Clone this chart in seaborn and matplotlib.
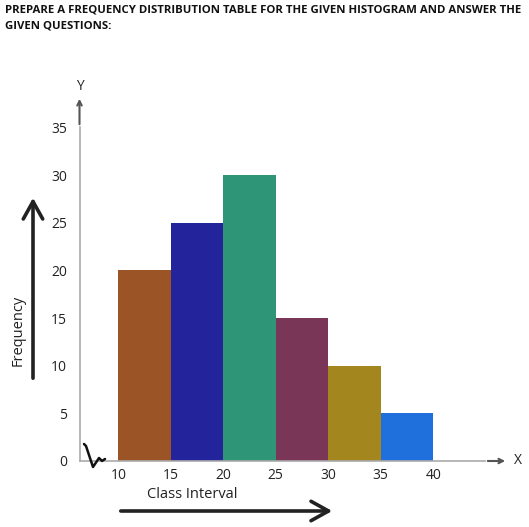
import matplotlib
matplotlib.use("Agg")
import matplotlib.pyplot as plt
import seaborn as sns
import pandas as pd

# ---- data ----
class_lower = [10, 15, 20, 25, 30, 35]
class_upper = [15, 20, 25, 30, 35, 40]
frequency = [20, 25, 30, 15, 10, 5]
bar_colors = ["#9A5425", "#23239C", "#2E9677", "#7A3656", "#A3861D", "#1F70DC"]
x_ticks = [10, 15, 20, 25, 30, 35, 40]
y_ticks = [0, 5, 10, 15, 20, 25, 30, 35]
title_text = "PREPARE A FREQUENCY DISTRIBUTION TABLE FOR THE GIVEN HISTOGRAM AND ANSWER THE\nGIVEN QUESTIONS:"

sns.set_style("white")
plt.rcParams["font.family"] = ["Open Sans", "DejaVu Sans"]

W, H = 529, 527
fig = plt.figure(figsize=(W / 100, H / 100), dpi=100)

# axes spanning pixel x 80..505, y 461 (zero) .. 93 (top)
px_left, px_right, px_zero, px_top = 80, 505, 461, 93
ax = fig.add_axes([px_left / W, (H - px_zero) / H,
                   (px_right - px_left) / W, (px_zero - px_top) / H])

mids = [(a + b) / 2 for a, b in zip(class_lower, class_upper)]
labels = [f"{a}-{b}" for a, b in zip(class_lower, class_upper)]
df = pd.DataFrame({"mid": mids, "freq": frequency, "cls": labels})

sns.barplot(data=df, x="mid", y="freq", hue="cls", palette=bar_colors,
            native_scale=True, width=1.0, dodge=False, legend=False,
            linewidth=0, saturation=1, ax=ax)

# data scale: 10.5 px per x unit, x=10 at px 118.3
xpu = 10.5
x0 = 10 - (118.3 - px_left) / xpu
x1 = 10 + (px_right - 118.3) / xpu
ypu = 47.65 / 5
y1 = (px_zero - px_top) / ypu
ax.set_xlim(x0, x1)
ax.set_ylim(0, y1)

ax.set_xticks(x_ticks)
ax.set_xticklabels([str(t) for t in x_ticks])
ax.set_yticks(y_ticks)
ax.set_yticklabels([str(t) for t in y_ticks])
ax.tick_params(axis="x", length=0, pad=5, labelsize=10, colors="#222222")
ax.tick_params(axis="y", direction="inout", length=9, width=0.9, color="#999999",
               pad=5, labelsize=10, labelcolor="#222222")
ax.set_xlabel("")
ax.set_ylabel("")

for s in ["top", "right"]:
    ax.spines[s].set_visible(False)
ax.spines["left"].set_color("#aaaaaa")
ax.spines["bottom"].set_color("#aaaaaa")
ax.spines["left"].set_linewidth(1.2)
ax.spines["bottom"].set_linewidth(1.2)
ax.spines["left"].set_bounds(0, 35)
ax.spines["bottom"].set_bounds(x0, 10 + (485 - 118.3) / xpu)

# axis arrows
def fx(px):
    return px / W
def fy(py):
    return (H - py) / H

fig.add_artist(matplotlib.patches.FancyArrowPatch(
    (fx(79.5), fy(127)), (fx(79.5), fy(96)), transform=fig.transFigure,
    arrowstyle="->", mutation_scale=8, color="#555555", lw=1.5))
fig.text(fx(80), fy(86), "Y", ha="center", va="center", fontsize=10, color="#222222")
fig.add_artist(matplotlib.patches.FancyArrowPatch(
    (fx(485), fy(461)), (fx(508), fy(461)), transform=fig.transFigure,
    arrowstyle="->", mutation_scale=8, color="#555555", lw=1.5))
fig.text(fx(518), fy(461), "X", ha="center", va="center", fontsize=10, color="#222222")

# zigzag break at origin
zz_x = [84, 86, 93, 99, 102, 105]
zz_y = [444, 446, 467, 458, 461, 459]
fig.add_artist(matplotlib.lines.Line2D([fx(v) for v in zz_x], [fy(v) for v in zz_y],
                                       transform=fig.transFigure, color="#111111", lw=1.8))

# axis titles with big arrows
fig.text(fx(18), fy(330), "Frequency", rotation=90, ha="center", va="center",
         fontsize=10.5, color="#222222")
fig.add_artist(matplotlib.patches.FancyArrowPatch(
    (fx(33), fy(381)), (fx(33), fy(195)), transform=fig.transFigure,
    arrowstyle="->,head_length=0.9,head_width=0.5", mutation_scale=14,
    color="#222222", lw=2.6))
fig.text(fx(192), fy(495), "Class Interval", ha="center", va="center",
         fontsize=10.5, color="#222222")
fig.add_artist(matplotlib.patches.FancyArrowPatch(
    (fx(118), fy(511)), (fx(335), fy(511)), transform=fig.transFigure,
    arrowstyle="->,head_length=0.9,head_width=0.5", mutation_scale=14,
    color="#222222", lw=2.6))

# title
fig.text(fx(5), fy(5), title_text, ha="left", va="top", fontsize=8.2,
         fontweight="bold", color="#111111", linespacing=1.6)

fig.savefig("out.png", dpi=100)
